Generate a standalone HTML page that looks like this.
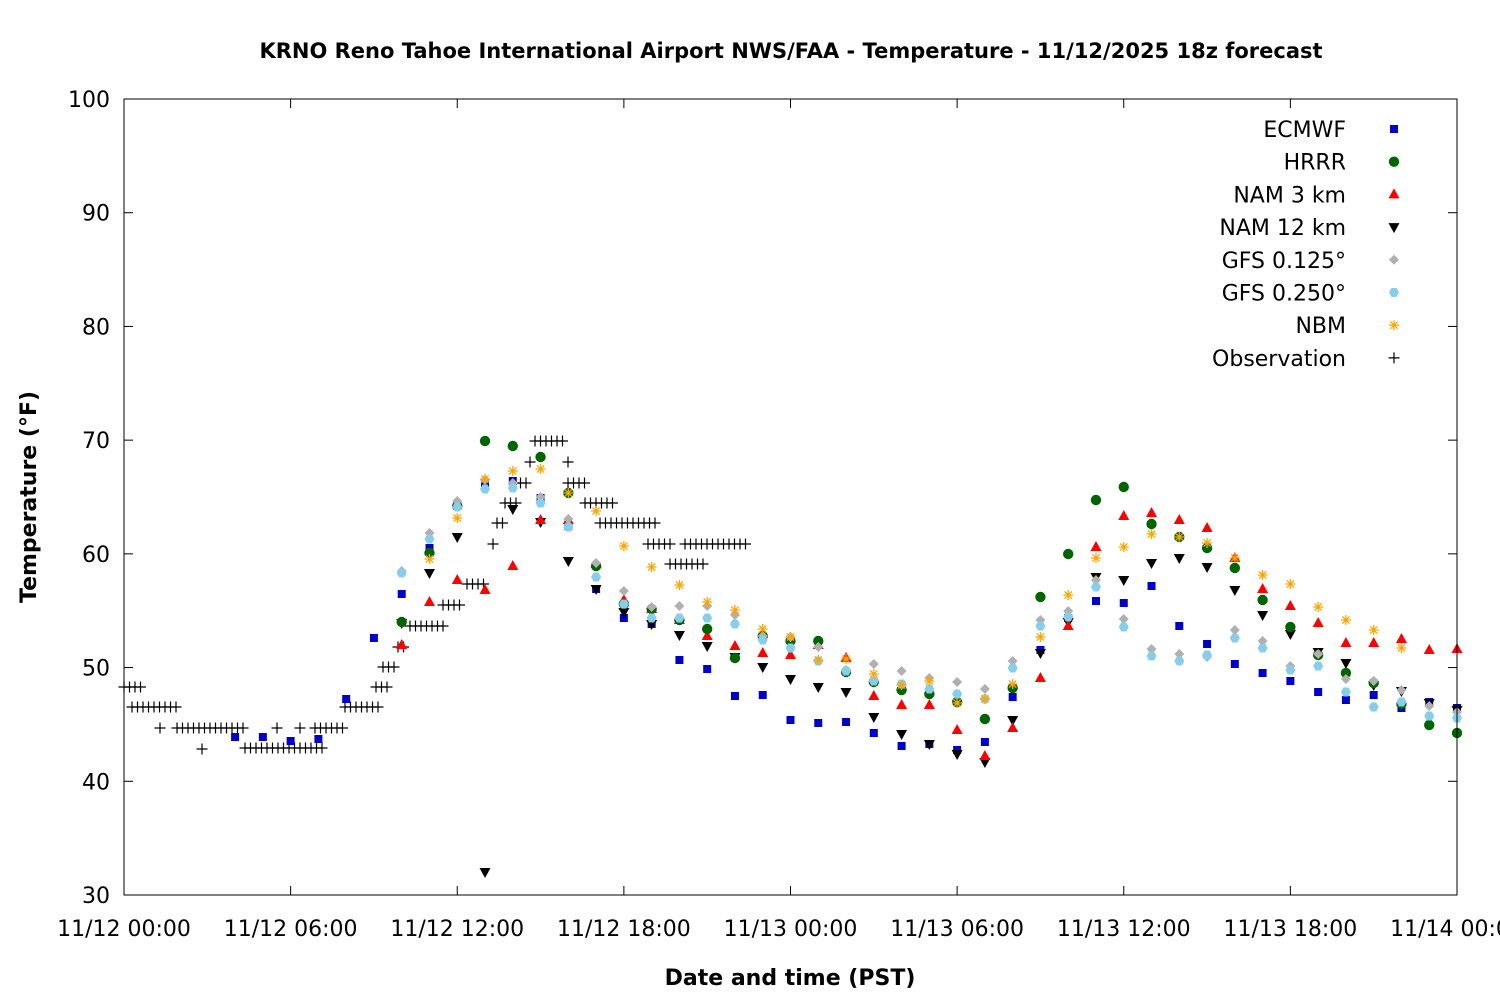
<!DOCTYPE html>
<html><head><meta charset="utf-8"><style>
body{margin:0;background:#fff}
svg{display:block;font-family:"DejaVu Sans","Liberation Sans",sans-serif}
</style></head><body>
<svg id="s" width="1500" height="1000" viewBox="0 0 1500 1000" xmlns="http://www.w3.org/2000/svg">
<rect width="1500" height="1000" fill="#fff"/>
<text x="791" y="58" text-anchor="middle" font-size="21" font-weight="bold">KRNO Reno Tahoe International Airport NWS/FAA - Temperature - 11/12/2025 18z forecast</text>
<text x="790" y="985" text-anchor="middle" font-size="22" font-weight="bold">Date and time (PST)</text>
<text transform="translate(36,497) rotate(-90)" text-anchor="middle" font-size="22" font-weight="bold">Temperature (°F)</text>
<g id="ax"></g><g id="pts"></g>
<rect x="124" y="99" width="1333" height="796" fill="none" stroke="#000" stroke-width="1"/>
</svg>
<script>
const NS="http://www.w3.org/2000/svg",ax=document.getElementById('ax'),P=document.getElementById('pts');
function el(p,t,a,txt){const e=document.createElementNS(NS,t);for(const k in a)e.setAttribute(k,a[k]);if(txt!==undefined)e.textContent=txt;p.appendChild(e);return e;}
for(let v=30;v<=100;v+=10){const y=895-(v-30)*796/70;
el(ax,'line',{x1:124,x2:133,y1:y,y2:y,stroke:'#000'});el(ax,'line',{x1:1448,x2:1457,y1:y,y2:y,stroke:'#000'});
el(ax,'text',{x:110,y:y+8,'text-anchor':'end','font-size':22},String(v));}
const xl=['11/12 00:00','11/12 06:00','11/12 12:00','11/12 18:00','11/13 00:00','11/13 06:00','11/13 12:00','11/13 18:00','11/14 00:00'];
xl.forEach((t,i)=>{const x=124+i*1333/8;el(ax,'line',{x1:x,x2:x,y1:886,y2:895,stroke:'#000'});el(ax,'line',{x1:x,x2:x,y1:99,y2:108,stroke:'#000'});
el(ax,'text',{x:x,y:936,'text-anchor':'middle','font-size':22},t);});
function mk(type,x,y){
 if(type==0)el(P,'rect',{x:x-4,y:y-4,width:8,height:8,fill:'#0000cc'});
 else if(type==1)el(P,'circle',{cx:x,cy:y,r:5.2,fill:'#006400'});
 else if(type==2)el(P,'path',{d:`M${x},${y-6}L${x+5.5},${y+4}L${x-5.5},${y+4}Z`,fill:'#ff0000'});
 else if(type==3)el(P,'path',{d:`M${x},${y+6}L${x+5.5},${y-4}L${x-5.5},${y-4}Z`,fill:'#000'});
 else if(type==4)el(P,'path',{d:`M${x},${y-5}L${x+5},${y}L${x},${y+5}L${x-5},${y}Z`,fill:'#b0b0b0'});
 else if(type==5)el(P,'path',{d:`M${x-2.5},${y-4.5}L${x+2.5},${y-4.5}L${x+5},${y}L${x+2.5},${y+4.5}L${x-2.5},${y+4.5}L${x-5},${y}Z`,fill:'#87ceeb'});
 else if(type==6){const g='#ffa500';el(P,'path',{d:`M${x-5},${y}H${x+5}M${x},${y-5}V${y+5}M${x-3.6},${y-3.6}L${x+3.6},${y+3.6}M${x-3.6},${y+3.6}L${x+3.6},${y-3.6}`,stroke:g,'stroke-width':1.3,fill:'none'});}
 else el(P,'path',{d:`M${x-5.5},${y}H${x+5.5}M${x},${y-5.5}V${y+5.5}`,stroke:'#000','stroke-width':1.2});
}
const H=h=>124+h*1333/48;
const E=[737,737,741,739,699,638,594,548,506,483,481,498,526,589,618,624,660,669,696,695,720,723,722,733,746,744,750,742,697,650,618,601,603,586,626,644,664,673,681,692,700,695,708,702,708];
const HR=[622,553,506,441,446,457,493,566,604,609,620,629,658,636,641,641,672,682,690,694,702,719,688,597,554,500,487,524,537,548,568,600,627,655,673,683,704,725,733];
const N3=[645,602,580,590,566,520,520,564,600,609,620,636,646,653,655,645,658,696,705,705,730,756,728,678,626,547,516,513,520,528,558,589,606,623,643,643,639,650,649];
const N12=[623,573,537,872,509,522,561,589,612,624,635,646,657,667,679,687,692,717,734,744,754,762,720,653,622,577,580,563,558,567,590,615,634,652,663,685,691,703,710];
const G1=[571,533,501,480,483,497,519,563,591,607,606,606,615,636,637,647,670,664,671,678,682,689,661,620,611,580,619,649,654,657,630,641,666,654,679,681,690,706,712];
const G2=[573,539,507,489,488,503,527,577,604,618,618,618,624,640,648,661,671,681,684,689,694,699,668,626,617,587,627,656,661,655,638,648,670,666,692,707,702,716,718];
const NB=[559,518,479,471,469,493,511,546,567,585,602,610,629,637,660,659,674,685,681,703,699,684,637,595,558,547,534,537,543,558,575,584,607,620,630,648];
const obs=[[124,142,687],[132,177,707],[160,165,728],[177,245,728],[202,202,749],[245,322,748],[277,277,728],[300,300,728],[315,345,728],[345,378,707],[376,390,687],[383,398,667],[398,408,647],[410,443,626],[443,463,605],[467,488,584],[493,493,544],[497,507,523],[505,520,503],[515,530,483],[530,535,462],[535,563,441],[568,568,462],[568,585,483],[585,613,503],[600,657,523],[648,670,544],[670,705,564],[685,748,544]];
obs.forEach(([a,b,y])=>{for(let x=a;x<=b+0.1;x+=5.5)mk(7,x,y);});
E.forEach((y,i)=>mk(0,H(i+4),y));
N12.forEach((y,i)=>mk(3,H(i+10),y));
N3.forEach((y,i)=>mk(2,H(i+10),y));
HR.forEach((y,i)=>mk(1,H(i+10),y));
G1.forEach((y,i)=>mk(4,H(i+10),y));
G2.forEach((y,i)=>mk(5,H(i+10),y));
NB.forEach((y,i)=>mk(6,H(i+11),y));
const L=['ECMWF','HRRR','NAM 3 km','NAM 12 km','GFS 0.125°','GFS 0.250°','NBM','Observation'];
L.forEach((t,i)=>{const y=129+i*32.7;el(P,'text',{x:1346,y:y+8,'text-anchor':'end','font-size':22},t);mk(i,1394,y);});
</script>
</body></html>
